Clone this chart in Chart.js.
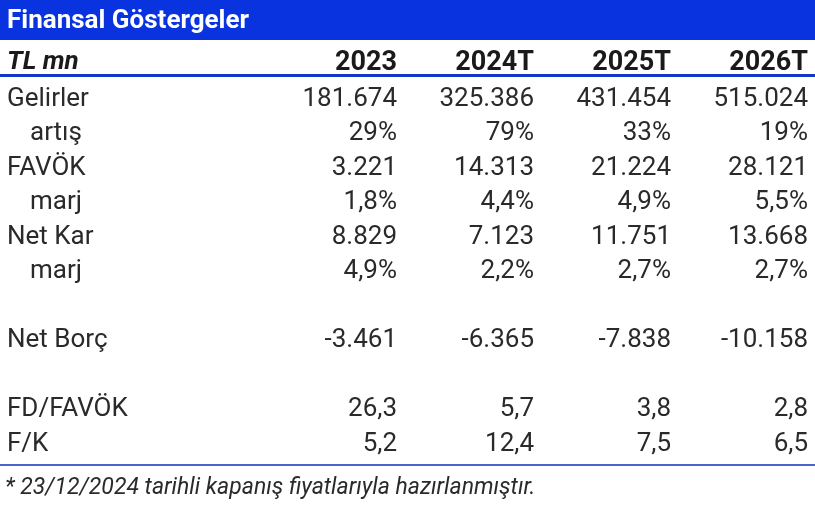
<!DOCTYPE html>
<html><head><meta charset="utf-8">
<script src="https://cdn.jsdelivr.net/npm/chart.js@4"></script>
<style>body{margin:0;background:#fff}#wrap{width:815px;height:511px}</style>
</head><body><div id="wrap"><canvas id="tbl"></canvas></div>
<script>
const title = 'Finansal Göstergeler';
const unitLabel = 'TL mn';
const columns = ['2023', '2024T', '2025T', '2026T'];
const rowLabels = ['Gelirler', 'artış', 'FAVÖK', 'marj', 'Net Kar', 'marj', '', 'Net Borç', '', 'FD/FAVÖK', 'F/K'];
const indented = [false, true, false, true, false, true, false, false, false, false, false];
const col2023 = ['181.674', '29%', '3.221', '1,8%', '8.829', '4,9%', '', '-3.461', '', '26,3', '5,2'];
const col2024 = ['325.386', '79%', '14.313', '4,4%', '7.123', '2,2%', '', '-6.365', '', '5,7', '12,4'];
const col2025 = ['431.454', '33%', '21.224', '4,9%', '11.751', '2,7%', '', '-7.838', '', '3,8', '7,5'];
const col2026 = ['515.024', '19%', '28.121', '5,5%', '13.668', '2,7%', '', '-10.158', '', '2,8', '6,5'];
const footnote = '* 23/12/2024 tarihli kapanış fiyatlarıyla hazırlanmıştır.';

const values = [col2023, col2024, col2025, col2026];
const FONT = 'Roboto, sans-serif';

const tablePlugin = {
  id: 'tablePlugin',
  afterDraw(chart) {
    const c = chart.ctx, xs = chart.scales.x, ys = chart.scales.y;
    const W = chart.width;
    c.save();
    // title bar
    c.fillStyle = '#0a33e0';
    c.fillRect(0, 0, W, 40);
    c.fillStyle = '#fff';
    c.font = 'bold 26px ' + FONT;
    c.textBaseline = 'middle';
    c.textAlign = 'left';
    c.fillText(title, 7, 21);
    // header row
    const hy = ys.getPixelForValue(-0.05) + 2;
    c.fillStyle = '#1a1a1a';
    c.font = 'italic bold 26px ' + FONT;
    c.fillText(unitLabel, 7, hy);
    c.font = 'bold 27px ' + FONT;
    c.textAlign = 'right';
    columns.forEach((lab, i) => c.fillText(lab, xs.getPixelForValue(i + 1), hy));
    // lines
    c.fillStyle = '#1238c8';
    c.fillRect(0, 74, W, 3);
    c.fillStyle = '#4a66cc';
    c.fillRect(0, 464, W, 2);
    // body
    c.fillStyle = '#2a2a2a';
    c.font = '26px ' + FONT;
    rowLabels.forEach((lab, r) => {
      const y = ys.getPixelForValue(r + 1) + 2;
      c.textAlign = 'left';
      c.fillText(lab, indented[r] ? 30 : 7, y);
      c.textAlign = 'right';
      values.forEach((col, i) => c.fillText(col[r], xs.getPixelForValue(i + 1), y));
    });
    // footnote
    c.textAlign = 'left';
    c.font = 'italic 23px ' + FONT;
    c.fillText(footnote, 5, 488);
    c.restore();
  }
};

new Chart(document.getElementById('tbl'), {
  type: 'scatter',
  data: { datasets: [{ data: [], pointRadius: 0 }] },
  options: {
    responsive: true, maintainAspectRatio: false, animation: false,
    layout: { padding: { left: 397, right: 7, top: 97, bottom: 511 - 442 } },
    plugins: { legend: { display: false }, tooltip: { enabled: false } },
    scales: {
      x: { type: 'linear', min: 1, max: 4, display: false },
      y: { type: 'linear', min: 1, max: 11, reverse: true, display: false }
    }
  },
  plugins: [tablePlugin]
});
</script></body></html>
